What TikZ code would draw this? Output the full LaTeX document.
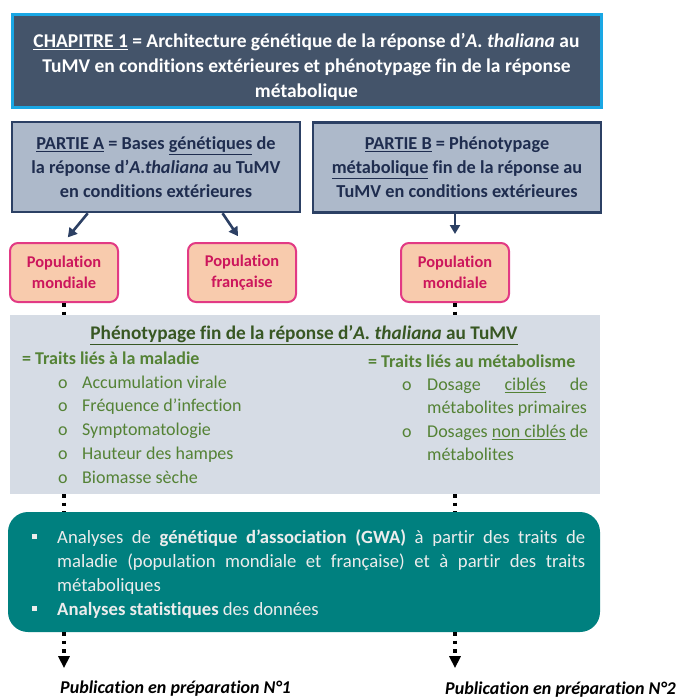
\documentclass[tikz,border=0pt]{standalone}
\usepackage{fontspec}
\setmainfont{Carlito}[Ligatures=NoCommon]
\usetikzlibrary{arrows.meta,calc,positioning}
\definecolor{chapfill}{RGB}{68,84,106}
\definecolor{chapline}{RGB}{26,167,228}
\definecolor{partfill}{RGB}{173,185,202}
\definecolor{partline}{RGB}{44,64,100}
\definecolor{parttext}{RGB}{31,45,79}
\definecolor{popfill}{RGB}{248,203,173}
\definecolor{popline}{RGB}{226,58,132}
\definecolor{poptext}{RGB}{204,22,92}
\definecolor{phenofill}{RGB}{214,220,229}
\definecolor{phenotitle}{RGB}{56,87,35}
\definecolor{phenotext}{RGB}{84,130,53}
\definecolor{gwafill}{RGB}{0,128,127}
\definecolor{gwatext}{RGB}{236,236,236}
\newcommand{\hangitem}[1]{\relax\noindent\hangindent=25pt\relax\hangafter=1\relax\makebox[25pt][l]{#1}}
\newcommand{\sqbullet}{\raisebox{4pt}{\rule{5pt}{5pt}}}
\hyphenpenalty=10000
\exhyphenpenalty=10000

\begin{document}
\begin{tikzpicture}[x=1pt, y=-1pt,
  partbox/.style={draw=partline, fill=partfill, line width=2.5pt, minimum width=288pt,
    minimum height=90pt, inner sep=0pt, align=center, text=parttext,
    font=\fontsize{18.3}{24}\selectfont\bfseries},
  popbox/.style={draw=popline, fill=popfill, rounded corners=8pt, line width=2pt,
    minimum width=108pt, minimum height=59pt, align=center, text=poptext,
    font=\fontsize{16.4}{21}\selectfont\bfseries},
  link/.style={-{Triangle[length=9pt,width=10pt]}, line width=2.6pt, draw=partline},
  dots/.style={line width=3.5pt, dash pattern=on 3.5pt off 5pt, black},
  pubarrow/.style={dots, -{Triangle[length=12pt,width=11pt]}, shorten >=12pt},
  ]
\useasboundingbox (0,0) rectangle (678,697);

% chapter title
\node[draw=chapline, fill=chapfill, line width=3pt, minimum width=589pt, minimum height=93pt,
  inner sep=0pt] (chap) at (306.5,60.5) {};
\node[inner sep=0pt, align=center, text=white, font=\fontsize{19.5}{25}\selectfont\bfseries]
  (chapT) at (306.5,67) {\underline{CHAPITRE 1} = Architecture génétique de la réponse d’\textit{A. thaliana} au\\
  TuMV en conditions extérieures et phénotypage fin de la réponse\\métabolique};

% parts A and B
\node[partbox] (partA) at (156,167) {\underline{PARTIE A} = Bases \underline{génétiques} de\\
  la réponse d’\textit{A.thaliana} au TuMV\\en conditions extérieures};
\node[partbox] (partB) at (457,167.5) {\underline{PARTIE B} = Phénotypage\\
  \underline{métabolique} fin de la réponse au\\TuMV en conditions extérieures};

% populations
\node[popbox] (popA1) at (64,272.5) {Population\\mondiale};
\node[popbox] (popA2) at (242,272.5) {Population\\française};
\node[popbox] (popB) at (455,272.5) {Population\\mondiale};

\draw[link, shorten >=6pt] ($(partA.south west)!0.265!(partA.south east)$) -- (popA1.north);
\draw[link, shorten >=7pt] ($(partA.south west)!0.729!(partA.south east)$) -- (popA2.north);
\draw[link, shorten >=8pt] (popB.north |- partB.south) -- (popB.north);

% phenotyping
\node[fill=phenofill, minimum width=590pt, minimum height=179pt, inner sep=0pt] (pheno) at (305,404.5) {};
\node[anchor=base, inner sep=0pt, text=phenotitle, font=\fontsize{19.3}{24}\selectfont\bfseries]
  (phenoT) at (304,339.5) {\underline{Phénotypage fin de la réponse d’\textit{A. thaliana} au TuMV}};
\node[anchor=north west, inner sep=0pt, align=left, text=phenotext, font=\fontsize{18}{23.8}\selectfont]
  (maladie) at (22,351.5) {\textbf{= Traits liés à la maladie}\\
  \hspace*{36pt}\makebox[24pt][l]{o}Accumulation virale\\
  \hspace*{36pt}\makebox[24pt][l]{o}Fréquence d’infection\\
  \hspace*{36pt}\makebox[24pt][l]{o}Symptomatologie\\
  \hspace*{36pt}\makebox[24pt][l]{o}Hauteur des hampes\\
  \hspace*{36pt}\makebox[24pt][l]{o}Biomasse sèche};
\node[anchor=base west, inner sep=0pt, text=phenotext, font=\fontsize{18}{24}\selectfont\bfseries]
  (metab) at (368,367) {= Traits liés au métabolisme};
\node[anchor=north west, inner sep=0pt, align=left, text=phenotext, font=\fontsize{18}{23.5}\selectfont]
  (dosage) at (402,377.5) {\makebox[25pt][l]{o}\makebox[161pt][s]{Dosage \underline{ciblés} de}\\
  \hspace*{25pt}métabolites primaires\\
  \makebox[25pt][l]{o}\makebox[161pt][s]{Dosages \underline{non ciblés} de}\\
  \hspace*{25pt}métabolites};

\draw[dots] (popA1.south) -- (popA1.south |- pheno.north);
\draw[dots] (popB.south) -- (popB.south |- pheno.north);

% GWA analyses
\node[fill=gwafill, rounded corners=20pt, minimum width=592pt, minimum height=120pt, inner sep=0pt]
  (gwa) at (304,572) {};
\node[anchor=north west, inner sep=0pt, text width=553pt, align=justify, text=gwatext,
  font=\fontsize{18.7}{24}\selectfont]
  (gwaT) at (32,529) {\hangitem{\sqbullet}Analyses de \textbf{génétique d’association (GWA)} à partir des traits de\linebreak
  maladie (population mondiale et française) et à partir des traits\linebreak métaboliques\par
  \hangitem{\sqbullet}\textbf{Analyses statistiques} des données};

\draw[dots] (popA1.south |- pheno.south) -- (popA1.south |- gwa.north);
\draw[dots] (popB.south |- pheno.south) -- (popB.south |- gwa.north);

% publications
\node[anchor=base west, inner sep=0pt, font=\fontsize{18}{24}\selectfont\bfseries\itshape]
  (pub1) at (60,693) {Publication en préparation N°1};
\node[anchor=base west, inner sep=0pt, font=\fontsize{18}{24}\selectfont\bfseries\itshape]
  (pub2) at (445,694) {Publication en préparation N°2};

\draw[pubarrow] (popA1.south |- gwa.south) -- (popA1.south |- pub1.north);
\draw[pubarrow] (popB.south |- gwa.south) -- (popB.south |- pub1.north);
\end{tikzpicture}
\end{document}
